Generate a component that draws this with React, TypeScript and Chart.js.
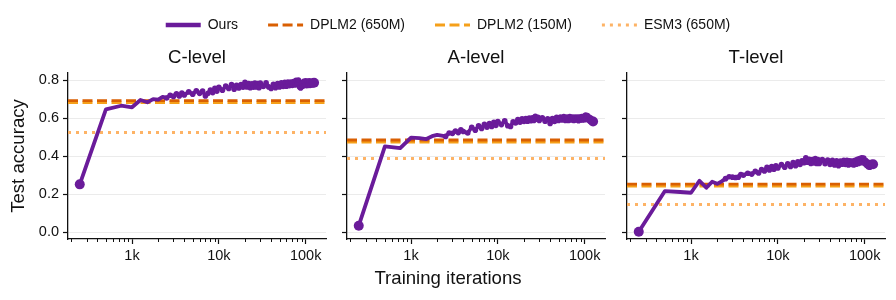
import React, { useEffect, useRef } from 'react';
import { Chart, registerables } from 'chart.js';

Chart.register(...registerables);

// ---------------- data ----------------
const iterations = [
  250, 500, 750, 1000, 1250, 1500, 1750, 2000, 2250, 2500, 2750, 3000, 3250, 3500, 3750, 4000,
  4500, 5000, 5500, 6000, 6500, 7000, 7500, 8000, 8500, 9000, 9500, 10000,
  11000, 12000, 13000, 14000, 15000, 16000, 17000, 18000, 19000, 20000,
  21000, 22000, 23000, 24000, 25000, 26000, 27000, 28000, 29000, 30000,
  32500, 35000, 37500, 40000, 42500, 45000, 47500, 50000, 52500, 55000, 57500, 60000,
  62500, 65000, 67500, 70000, 72500, 75000, 77500, 80000, 82500, 85000, 87500, 90000,
  92500, 95000, 97500, 100000, 102500, 105000, 107500, 110000, 112500, 115000, 117500, 120000,
  122500, 125000,
];

const cLevel = [
  0.252, 0.646, 0.665, 0.657, 0.695, 0.683, 0.700, 0.697, 0.712, 0.706, 0.720,
  0.714, 0.728, 0.716, 0.732, 0.722, 0.738, 0.726, 0.744, 0.730, 0.742, 0.716, 0.730, 0.748,
  0.734, 0.756, 0.742, 0.762,
  0.746, 0.768, 0.756, 0.776, 0.752, 0.772, 0.758, 0.776, 0.762, 0.788,
  0.764, 0.782, 0.760, 0.780, 0.762, 0.784, 0.764, 0.782, 0.760, 0.784,
  0.766, 0.786, 0.764, 0.756, 0.778, 0.760, 0.782, 0.764, 0.786, 0.766, 0.788, 0.768,
  0.790, 0.770, 0.790, 0.772, 0.792, 0.774, 0.798, 0.776, 0.800, 0.764, 0.758, 0.786,
  0.768, 0.794, 0.772, 0.796, 0.770, 0.794, 0.772, 0.796, 0.772, 0.794, 0.774, 0.794,
  0.776, 0.786,
];

const aLevel = [
  0.035, 0.452, 0.442, 0.498, 0.495, 0.490, 0.505, 0.512, 0.508, 0.504, 0.522,
  0.520, 0.532, 0.524, 0.538, 0.530, 0.522, 0.552, 0.536, 0.560, 0.546, 0.568, 0.552, 0.572,
  0.556, 0.578, 0.562, 0.582,
  0.566, 0.586, 0.560, 0.556, 0.580, 0.574, 0.592, 0.578, 0.596, 0.582,
  0.598, 0.584, 0.600, 0.586, 0.602, 0.588, 0.610, 0.594, 0.604, 0.588,
  0.602, 0.584, 0.596, 0.572, 0.598, 0.582, 0.604, 0.588, 0.606, 0.590, 0.608, 0.588,
  0.606, 0.588, 0.608, 0.590, 0.606, 0.588, 0.606, 0.590, 0.606, 0.586, 0.606, 0.590,
  0.608, 0.590, 0.610, 0.592, 0.616, 0.594, 0.614, 0.590, 0.606, 0.584, 0.600, 0.580,
  0.594, 0.582,
];

const tLevel = [
  0.003, 0.217, 0.212, 0.208, 0.271, 0.234, 0.266, 0.255, 0.268, 0.282, 0.292,
  0.290, 0.288, 0.290, 0.304, 0.300, 0.310, 0.306, 0.320, 0.312, 0.330, 0.322, 0.342, 0.328,
  0.346, 0.332, 0.350, 0.338,
  0.356, 0.342, 0.360, 0.346, 0.366, 0.350, 0.370, 0.356, 0.376, 0.366,
  0.392, 0.368, 0.384, 0.362, 0.382, 0.364, 0.388, 0.362, 0.382, 0.362,
  0.382, 0.360, 0.380, 0.356, 0.378, 0.354, 0.376, 0.350, 0.374, 0.358, 0.378, 0.356,
  0.378, 0.354, 0.376, 0.356, 0.374, 0.354, 0.378, 0.358, 0.384, 0.362, 0.388, 0.366,
  0.392, 0.368, 0.390, 0.360, 0.378, 0.352, 0.370, 0.344, 0.364, 0.342, 0.366, 0.348,
  0.366, 0.358,
];

const panelTitles = ['C-level', 'A-level', 'T-level'];
const panelSeries = [cLevel, aLevel, tLevel];
const dplm2Large = [0.692, 0.485, 0.253];
const dplm2Small = [0.681, 0.474, 0.243];
const esm3 = [0.525, 0.388, 0.146];

const seriesNames = ['Ours', 'DPLM2 (650M)', 'DPLM2 (150M)', 'ESM3 (650M)'];
const yTicks = [0, 0.2, 0.4, 0.6, 0.8];
const yTickLabels = ['0.0', '0.2', '0.4', '0.6', '0.8'];
const xTicks = [1000, 10000, 100000];
const xTickLabels = ['1k', '10k', '100k'];
const xMinorTicks = [
  200, 300, 400, 500, 600, 700, 800, 900,
  2000, 3000, 4000, 5000, 6000, 7000, 8000, 9000,
  20000, 30000, 40000, 50000, 60000, 70000, 80000, 90000,
];
const xAxisLabel = 'Training iterations';
const yAxisLabel = 'Test accuracy';

// axis bounds
const X_MIN = 183;
const X_MAX = 171500;
const Y_MIN = -0.035;
const Y_MAX = 0.837;

// ---------------- style / layout ----------------
const W = 896;
const H = 300;
const PANEL_LEFT = [68, 347, 627];
const PANEL_WIDTH = 258;
const PLOT_TOP = 73;
const PLOT_BOTTOM = 239;
const Y_AXIS_W = 68;
const X_AXIS_H = 40;
const TITLE_SIZE = 18.6;
const TICK_SIZE = 14.5;
const LEGEND_SIZE = 14;
const LEGEND_SHIFT = 12;
const DENSE_FROM = 2500; // iterations from which evaluation markers blend into a band

const FONT = "'Liberation Sans', Arial, Helvetica, sans-serif";
const TEXT = '#111111';
const PURPLE = '#6a1b9a';
const DARK_ORANGE = '#d95f02';
const ORANGE = '#f5a01a';
const LIGHT_ORANGE = '#fdb366';

Chart.defaults.font.family = FONT;
Chart.defaults.color = TEXT;

const styles = [
  { color: PURPLE, width: 3.8, legendWidth: 4.5, dash: [] as number[], cap: 'round' },
  { color: DARK_ORANGE, width: 2.8, legendWidth: 2.8, dash: [10, 4.5], cap: 'butt' },
  { color: ORANGE, width: 2.8, legendWidth: 2.8, dash: [10, 4.5], cap: 'butt' },
  { color: LIGHT_ORANGE, width: 3, legendWidth: 3, dash: [3, 5], cap: 'butt' },
];

const minorTickPlugin = {
  id: 'minorTicks',
  afterDraw(chart: any) {
    const s = chart.scales.x;
    if (!s) return;
    const ctx = chart.ctx;
    ctx.save();
    ctx.strokeStyle = TEXT;
    ctx.lineWidth = 1;
    for (const v of xMinorTicks) {
      const px = Math.round(s.getPixelForValue(v)) + 0.5;
      if (px < s.left || px > s.right) continue;
      ctx.beginPath();
      ctx.moveTo(px, s.top);
      ctx.lineTo(px, s.top + 3);
      ctx.stroke();
    }
    ctx.restore();
  },
};

const xLabelPlugin = {
  id: 'figXLabel',
  afterDraw(chart: any) {
    const ctx = chart.ctx;
    ctx.save();
    ctx.font = `${TITLE_SIZE}px ${FONT}`;
    ctx.fillStyle = TEXT;
    ctx.textAlign = 'center';
    ctx.textBaseline = 'alphabetic';
    ctx.fillText(xAxisLabel, W / 2, 283.5 + LEGEND_SHIFT);
    ctx.restore();
  },
};

function makePanel(canvas: HTMLCanvasElement, i: number) {
  const series = panelSeries[i];
  const last = series.length - 1;
  const baselineValues = [dplm2Large[i], dplm2Small[i], esm3[i]];
  const titleLine = TITLE_SIZE * 1.2;
  const titleTop = 57.5 - titleLine / 2;
  const titleBottomPad = PLOT_TOP - titleTop - titleLine;

  const datasets: any[] = [
    {
      label: seriesNames[0],
      data: iterations.map((x, k) => ({ x, y: series[k] })),
      borderColor: PURPLE,
      backgroundColor: PURPLE,
      borderWidth: styles[0].width,
      borderJoinStyle: 'round',
      borderCapStyle: 'round',
      pointRadius: (ctx: any) => {
        const k = ctx.dataIndex;
        if (k === 0 || k === last) return 5;
        return iterations[k] >= DENSE_FROM ? 2.8 : 0;
      },
      pointBackgroundColor: PURPLE,
      pointBorderWidth: 0,
      tension: 0,
    },
    ...baselineValues.map((v, j) => ({
      label: seriesNames[j + 1],
      data: [
        { x: X_MIN, y: v },
        { x: X_MAX, y: v },
      ],
      borderColor: styles[j + 1].color,
      backgroundColor: styles[j + 1].color,
      borderWidth: styles[j + 1].width,
      borderDash: styles[j + 1].dash,
      borderCapStyle: styles[j + 1].cap,
      pointRadius: 0,
    })),
  ];

  return new Chart(canvas, {
    type: 'line',
    data: { datasets },
    plugins: [minorTickPlugin],
    options: {
      responsive: false,
      animation: false,
      events: [],
      layout: {
        padding: {
          left: PANEL_LEFT[i] - Y_AXIS_W,
          right: W - PANEL_LEFT[i] - PANEL_WIDTH,
          top: titleTop,
          bottom: H - PLOT_BOTTOM - X_AXIS_H,
        },
      },
      plugins: {
        legend: { display: false },
        tooltip: { enabled: false },
        title: {
          display: true,
          text: panelTitles[i],
          fullSize: false,
          color: TEXT,
          font: { size: TITLE_SIZE, weight: 'normal' },
          padding: { top: 0, bottom: titleBottomPad },
        },
      },
      scales: {
        x: {
          type: 'logarithmic',
          position: 'bottom',
          min: X_MIN,
          max: X_MAX,
          afterFit: (s: any) => {
            s.height = X_AXIS_H;
          },
          afterBuildTicks: (s: any) => {
            s.ticks = xTicks.map((v) => ({ value: v }));
          },
          ticks: {
            autoSkip: false,
            maxRotation: 0,
            padding: 3,
            color: TEXT,
            font: { size: TICK_SIZE },
            callback: (v: any) => xTickLabels[xTicks.indexOf(Number(v))] ?? '',
          },
          grid: {
            drawOnChartArea: false,
            drawTicks: true,
            tickLength: 5,
            tickColor: TEXT,
            tickWidth: 1.2,
          },
          border: { display: true, color: TEXT, width: 1.3 },
        },
        y: {
          type: 'linear',
          min: Y_MIN,
          max: Y_MAX,
          afterFit: (s: any) => {
            s.width = Y_AXIS_W;
          },
          afterBuildTicks: (s: any) => {
            s.ticks = yTicks.map((v) => ({ value: v }));
          },
          ticks: {
            padding: 4,
            color: TEXT,
            font: { size: TICK_SIZE },
            callback: (v: any) => (i === 0 ? yTickLabels[yTicks.indexOf(Number(v))] ?? '' : ''),
          },
          grid: {
            color: '#ebebeb',
            lineWidth: 1,
            drawTicks: true,
            tickLength: 5,
            tickColor: TEXT,
            tickWidth: 1.2,
          },
          border: { display: true, color: TEXT, width: 1.3 },
          title: {
            display: i === 0,
            text: yAxisLabel,
            color: TEXT,
            font: { size: TITLE_SIZE },
            padding: { top: 8, bottom: 0 },
          },
        },
      },
    } as any,
  });
}

function makeLegend(canvas: HTMLCanvasElement) {
  const datasets = seriesNames.map((name, j) => ({
    label: name,
    data: [] as any[],
    borderColor: styles[j].color,
    backgroundColor: styles[j].color,
    borderWidth: styles[j].width,
    borderDash: styles[j].dash,
  }));
  return new Chart(canvas, {
    type: 'line',
    data: { datasets },
    plugins: [xLabelPlugin],
    options: {
      responsive: false,
      animation: false,
      events: [],
      scales: { x: { display: false }, y: { display: false } },
      plugins: {
        tooltip: { enabled: false },
        title: { display: false },
        legend: {
          display: true,
          position: 'top',
          align: 'center',
          labels: {
            usePointStyle: true,
            pointStyle: 'line',
            pointStyleWidth: 35,
            padding: 30,
            color: TEXT,
            font: { size: LEGEND_SIZE },
            generateLabels: () =>
              seriesNames.map((name, j) => ({
                text: name,
                fillStyle: styles[j].color,
                strokeStyle: styles[j].color,
                lineWidth: styles[j].legendWidth,
                lineDash: styles[j].dash,
                lineDashOffset: 0,
                lineCap: 'butt',
                lineJoin: 'miter',
                pointStyle: 'line',
                rotation: 0,
                hidden: false,
                fontColor: TEXT,
                datasetIndex: j,
              })),
          },
        },
      },
    } as any,
  });
}

export default function App() {
  const legendRef = useRef<HTMLCanvasElement>(null);
  const p0 = useRef<HTMLCanvasElement>(null);
  const p1 = useRef<HTMLCanvasElement>(null);
  const p2 = useRef<HTMLCanvasElement>(null);

  useEffect(() => {
    const charts: Chart[] = [];
    [p0, p1, p2].forEach((r, i) => {
      if (r.current) charts.push(makePanel(r.current, i));
    });
    if (legendRef.current) charts.push(makeLegend(legendRef.current));
    return () => charts.forEach((c) => c.destroy());
  }, []);

  const canvasStyle: React.CSSProperties = { position: 'absolute', left: 0, top: 0 };
  return (
    <div style={{ position: 'absolute', left: 0, top: 0, width: W, height: H, background: '#fff', overflow: 'hidden' }}>
      <canvas ref={p0} width={W} height={H} style={canvasStyle} />
      <canvas ref={p1} width={W} height={H} style={canvasStyle} />
      <canvas ref={p2} width={W} height={H} style={canvasStyle} />
      <canvas
        ref={legendRef}
        width={W}
        height={H + LEGEND_SHIFT}
        style={{ position: 'absolute', left: 0, top: -LEGEND_SHIFT }}
      />
    </div>
  );
}
